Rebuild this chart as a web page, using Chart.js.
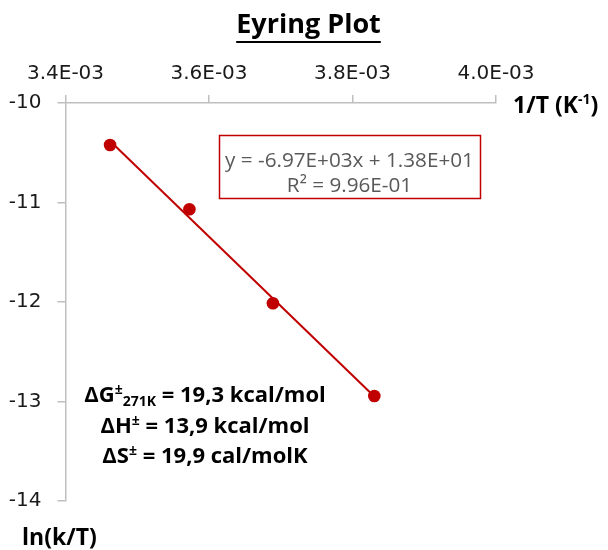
<!DOCTYPE html>
<html>
<head>
<meta charset="utf-8">
<script src="https://cdn.jsdelivr.net/npm/chart.js@4.4.1/dist/chart.umd.min.js"></script>
<style>
  html, body { margin: 0; padding: 0; background: #ffffff; }
  #wrap { width: 608px; height: 550px; }
</style>
</head>
<body>
<div id="wrap"><canvas id="c" width="608" height="550"></canvas></div>
<script>
// Measured points: 1/T (K^-1) against ln(k/T)
const invT = [3.4621e-3, 3.5727e-3, 3.6891e-3, 3.8304e-3];
const lnKT = [-10.422, -11.068, -12.013, -12.945];

// Axis ticks
const xTickValues = [0.0034, 0.0036, 0.0038, 0.0040];
const xTickLabels = ['3.4E-03', '3.6E-03', '3.8E-03', '4.0E-03'];
const yTickValues = [-10, -11, -12, -13, -14];
const yTickLabels = ['-10', '-11', '-12', '-13', '-14'];

// Texts
const titleText = 'Eyring Plot';
const fitText = ['y = -6.97E+03x + 1.38E+01', 'R\u00B2 = 9.96E-01'];
const thermoLines = [
  [{ t: '\u0394G' }, { t: '\u00B1', sup: true }, { t: '271K', sub: true }, { t: ' = 19,3 kcal/mol' }],
  [{ t: '\u0394H' }, { t: '\u00B1', sup: true }, { t: ' = 13,9 kcal/mol' }],
  [{ t: '\u0394S' }, { t: '\u00B1', sup: true }, { t: ' = 19,9 cal/molK' }]
];

const RED = '#c00000';
const AXIS = '#bfbfbf';
const FONT = '"Open Sans", sans-serif';
const TICK_FONT = '"DejaVu Sans", sans-serif';

// Least-squares trendline through the measured points
function linearFit(xs, ys) {
  const n = xs.length;
  const mx = xs.reduce((a, b) => a + b, 0) / n;
  const my = ys.reduce((a, b) => a + b, 0) / n;
  let sxy = 0, sxx = 0;
  for (let i = 0; i < n; i++) { sxy += (xs[i] - mx) * (ys[i] - my); sxx += (xs[i] - mx) ** 2; }
  const m = sxy / sxx;
  return { m, b: my - m * mx };
}
const fit = linearFit(invT, lnKT);
const xLo = Math.min(...invT), xHi = Math.max(...invT);
const trend = [{ x: xLo, y: fit.m * xLo + fit.b }, { x: xHi, y: fit.m * xHi + fit.b }];
const points = invT.map((x, i) => ({ x, y: lnKT[i] }));

function drawRich(ctx, segs, cx, baseline, size) {
  const parts = segs.map(s => {
    const sz = (s.sup || s.sub) ? Math.round(size * 0.64) : size;
    ctx.font = 'bold ' + sz + 'px ' + FONT;
    return { s, sz, w: ctx.measureText(s.t).width };
  });
  const total = parts.reduce((a, p) => a + p.w, 0);
  let x = cx - total / 2;
  ctx.textAlign = 'left';
  ctx.textBaseline = 'alphabetic';
  parts.forEach(p => {
    ctx.font = 'bold ' + p.sz + 'px ' + FONT;
    const dy = p.s.sup ? -size * 0.36 : (p.s.sub ? size * 0.22 : 0);
    ctx.fillText(p.s.t, x, baseline + dy);
    x += p.w;
  });
}

const overlay = {
  id: 'overlay',
  afterDraw(chart) {
    const ctx = chart.ctx;
    ctx.save();
    ctx.fillStyle = '#000000';

    // Title, underlined
    ctx.font = 'bold 27px ' + FONT;
    ctx.textAlign = 'center';
    ctx.textBaseline = 'alphabetic';
    ctx.fillText(titleText, 308.5, 33);
    const tw = ctx.measureText(titleText).width;
    ctx.fillRect(308.5 - tw / 2, 41, tw, 2);

    // Axis titles
    ctx.textAlign = 'left';
    ctx.font = 'bold 23px ' + FONT;
    let x = 513;
    ctx.fillText('1/T (K', x, 113);
    x += ctx.measureText('1/T (K').width;
    ctx.font = 'bold 14px ' + FONT;
    ctx.fillText('-1', x, 104);
    x += ctx.measureText('-1').width;
    ctx.font = 'bold 23px ' + FONT;
    ctx.fillText(')', x, 113);

    ctx.fillText('ln(k/T)', 22, 545);

    // Trendline equation box
    ctx.strokeStyle = RED;
    ctx.lineWidth = 1.5;
    ctx.strokeRect(219.5, 135.5, 261, 63);
    ctx.fillStyle = '#595959';
    ctx.font = '20.7px ' + FONT;
    ctx.textAlign = 'center';
    ctx.fillText(fitText[0], 349.5, 166.5);
    ctx.fillText(fitText[1], 349.5, 191.5);

    // Activation parameters
    ctx.fillStyle = '#000000';
    const baselines = [401.5, 433, 463];
    thermoLines.forEach((segs, i) => drawRich(ctx, segs, 205, baselines[i], 22));

    ctx.restore();
  }
};

new Chart(document.getElementById('c'), {
  type: 'scatter',
  data: {
    datasets: [
      {
        label: 'Linear fit',
        type: 'line',
        data: trend,
        borderColor: RED,
        borderWidth: 2,
        pointRadius: 0,
        fill: false,
        order: 2
      },
      {
        label: 'ln(k/T)',
        data: points,
        pointRadius: 6.3,
        pointHoverRadius: 6.3,
        backgroundColor: RED,
        borderColor: RED,
        borderWidth: 0,
        order: 1
      }
    ]
  },
  options: {
    responsive: false,
    animation: false,
    devicePixelRatio: 1,
    layout: { padding: { left: 0, right: 112, top: 0, bottom: 49 } },
    plugins: {
      legend: { display: false },
      tooltip: { enabled: false },
      title: { display: false }
    },
    scales: {
      x: {
        type: 'linear',
        position: 'top',
        min: 0.0034,
        max: 0.0040,
        afterBuildTicks: s => { s.ticks = xTickValues.map(v => ({ value: v })); },
        afterFit: s => { s.height = 103; },
        grid: { drawOnChartArea: false, drawTicks: true, tickLength: 8, color: AXIS, lineWidth: 1.5 },
        border: { display: true, color: AXIS, width: 1.5 },
        ticks: {
          padding: 9,
          color: '#1a1a1a',
          font: { family: TICK_FONT, size: 20 },
          callback: (v, i) => xTickLabels[i]
        }
      },
      y: {
        type: 'linear',
        min: -14,
        max: -10,
        afterBuildTicks: s => { s.ticks = yTickValues.map(v => ({ value: v })); },
        afterFit: s => { s.width = 65.5; },
        grid: { drawOnChartArea: false, drawTicks: true, tickLength: 8, color: AXIS, lineWidth: 1.5 },
        border: { display: true, color: AXIS, width: 1.5 },
        ticks: {
          padding: 16,
          color: '#1a1a1a',
          font: { family: TICK_FONT, size: 20 },
          callback: (v, i) => yTickLabels[i]
        }
      }
    }
  },
  plugins: [overlay]
});
</script>
</body>
</html>
